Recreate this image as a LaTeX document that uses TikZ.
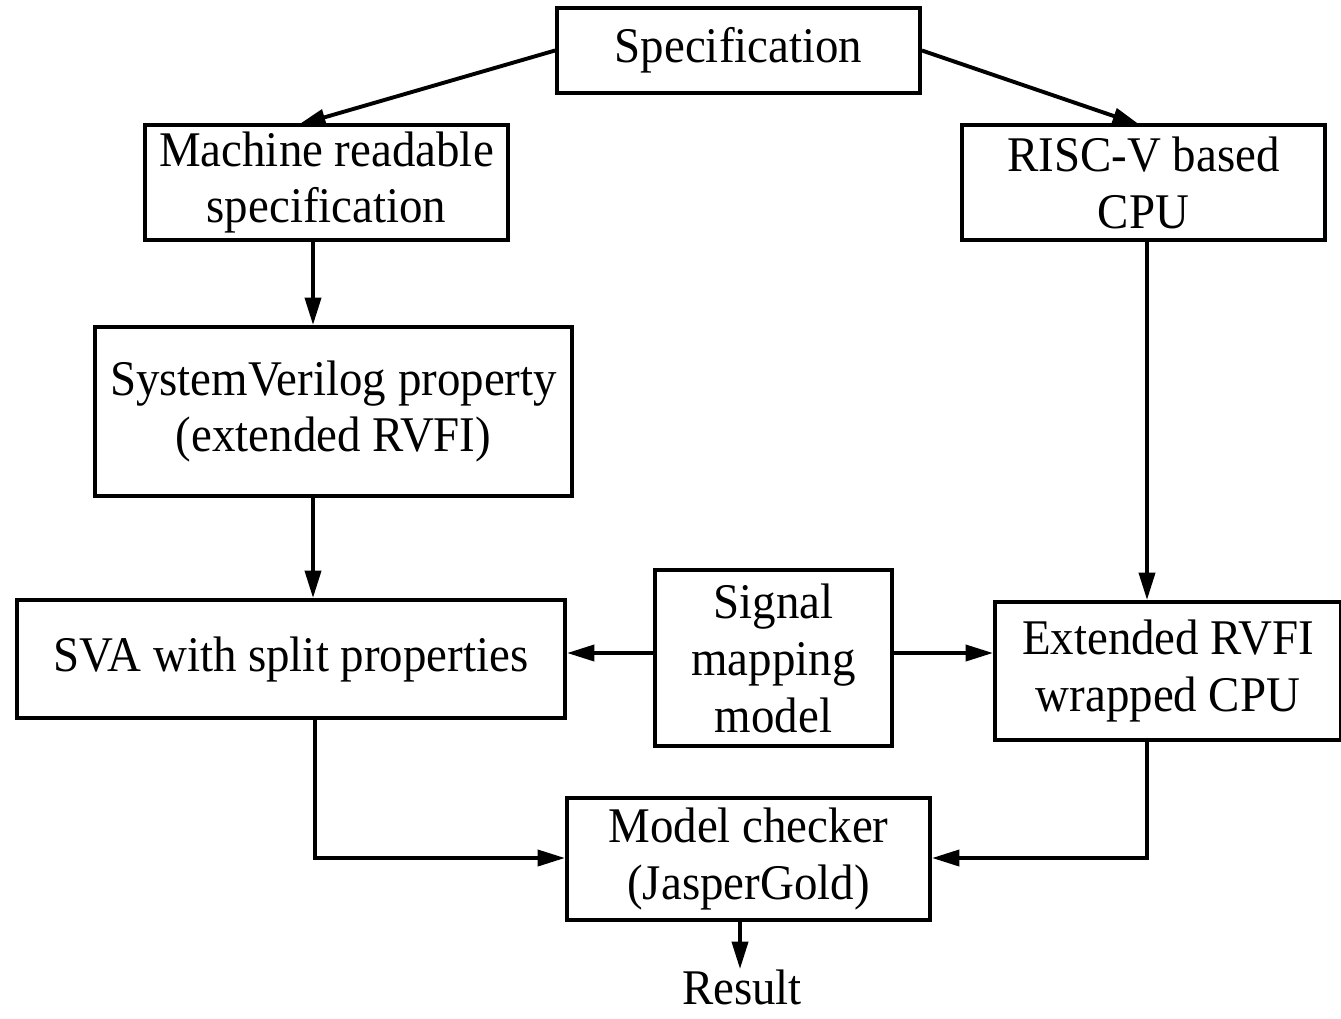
\documentclass[tikz,border=0pt]{standalone}
\usepackage{fontspec}
\setmainfont{Liberation Serif}[FakeStretch=0.94]
\usetikzlibrary{arrows.meta,calc}
\begin{document}
\begin{tikzpicture}[x=0.02cm,y=-0.02cm,
  box/.style={draw,line width=0.078cm,align=center,inner sep=0pt,
    font=\fontsize{28.4pt}{32.4pt}\selectfont},
  conn/.style={line width=0.078cm,-{Triangle[length=0.55cm,width=0.32cm]}}]
\useasboundingbox (0,0) rectangle (1341,1018);
\node[box,minimum width=363*0.02cm,minimum height=85*0.02cm] (spec) at (738.5,50.5) {Specification};
\node[box,minimum width=363*0.02cm,minimum height=115*0.02cm] (mach) at (326.5,182.5) {Machine readable\\specification};
\node[box,minimum width=363*0.02cm,minimum height=115*0.02cm] (risc) at (1143.5,182.5) {RISC-V based\\CPU};
\node[box,minimum width=477*0.02cm,minimum height=169*0.02cm] (sysv) at (333.5,411.5) {SystemVerilog property\\(extended RVFI)};
\node[box,minimum width=548*0.02cm,minimum height=118*0.02cm] (sva) at (291,659) {SVA with split properties};
\node[box,minimum width=237*0.02cm,minimum height=176*0.02cm] (sig) at (773.5,658) {Signal\\mapping\\model};
\node[box,minimum width=346*0.02cm,minimum height=138*0.02cm] (ext) at (1168,671) {Extended RVFI\\wrapped CPU};
\node[box,minimum width=363*0.02cm,minimum height=122*0.02cm] (mc) at (748.5,859) {Model checker\\(JasperGold)};
\node[font=\fontsize{28.4pt}{32.4pt}\selectfont,inner sep=0pt] (res) at (742,987) {Result};
\coordinate (xa) at (313,0);
\coordinate (xb) at (1147,0);
\coordinate (xs) at (315,0);
\coordinate (xc) at (740,0);
\coordinate (ya) at (0,653);
\coordinate (yb) at (0,858);
\coordinate (tipl) at (298,125);
\coordinate (tipr) at (1140,125);
\draw[conn] (spec.west) -- (tipl);
\draw[conn] (spec.east) -- (tipr);
\draw[conn] (mach.south -| xa) -- (sysv.north -| xa);
\draw[conn] (sysv.south -| xa) -- (sva.north -| xa);
\draw[conn] (risc.south -| xb) -- (ext.north -| xb);
\draw[conn] (sig.west |- ya) -- (sva.east |- ya);
\draw[conn] (sig.east |- ya) -- (ext.west |- ya);
\draw[conn] (sva.south -| xs) |- (mc.west |- yb);
\draw[conn] (ext.south -| xb) |- (mc.east |- yb);
\draw[conn] (mc.south -| xc) -- (res.north -| xc);
\end{tikzpicture}
\end{document}
